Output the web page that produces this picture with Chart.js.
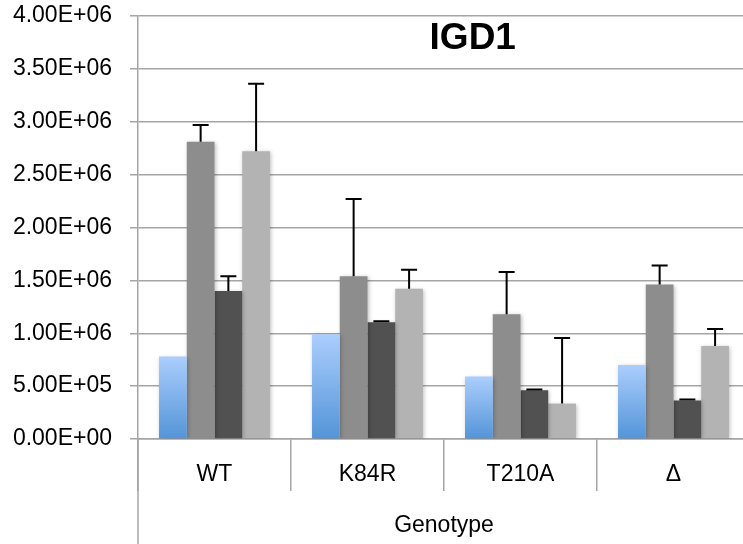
<!DOCTYPE html>
<html>
<head>
<meta charset="utf-8">
<script src="https://cdn.jsdelivr.net/npm/chart.js@4"></script>
<style>
  html, body { margin: 0; padding: 0; background: #fff; overflow: hidden; }
  #wrap { width: 752px; height: 544px; }
</style>
</head>
<body>
<div id="wrap"><canvas id="barChart" width="752" height="544"></canvas></div>
<script>
// data
var genotypes = ['WT', 'K84R', 'T210A', 'Δ'];
var series1 = [780000, 990000, 590000, 700000];
var series2 = [2810000, 1540000, 1180000, 1460000];
var series3 = [1400000, 1105000, 460000, 365000];
var series4 = [2720000, 1420000, 335000, 880000];
var err2 = [160000, 730000, 400000, 180000];
var err3 = [140000, 8000, 8000, 8000];
var err4 = [640000, 180000, 620000, 160000];
var yTicks = [0, 500000, 1000000, 1500000, 2000000, 2500000, 3000000, 3500000, 4000000];

var FONT = 'Liberation Sans, Arial, sans-serif';
var GRID = '#a5a5a5';

function sci(v) {
    if (v === 0) return '0.00E+00';
    var e = Math.floor(Math.log10(v));
    var m = v / Math.pow(10, e);
    return m.toFixed(2) + 'E+' + String(e).padStart(2, '0');
}

function blueGradient(c) {
    var chart = c.chart;
    if (!chart.chartArea || c.raw === undefined) return '#7fb0ea';
    var y = chart.scales.y;
    var top = y.getPixelForValue(c.raw);
    var bottom = y.getPixelForValue(0);
    var g = chart.ctx.createLinearGradient(0, top, 0, bottom);
    g.addColorStop(0, '#abcefd');
    g.addColorStop(1, '#5394d8');
    return g;
}

// error bars (up only), bar shadows, title text and the long left line
var extras = {
    id: 'extras',
    beforeDatasetsDraw: function (chart) {
        var ctx = chart.ctx;
        ctx.save();
        ctx.shadowColor = 'rgba(0,0,0,0.25)';
        ctx.shadowBlur = 4;
        ctx.shadowOffsetX = 1;
        ctx.shadowOffsetY = 1;
    },
    afterDatasetsDraw: function (chart) {
        var ctx = chart.ctx;
        ctx.restore();
        var y = chart.scales.y;
        chart.data.datasets.forEach(function (ds, i) {
            if (!ds.errors) return;
            var meta = chart.getDatasetMeta(i);
            meta.data.forEach(function (bar, j) {
                var top = y.getPixelForValue(ds.data[j] + ds.errors[j]);
                ctx.save();
                ctx.strokeStyle = '#000';
                ctx.lineWidth = 2;
                ctx.beginPath();
                ctx.moveTo(bar.x, bar.y);
                ctx.lineTo(bar.x, top);
                ctx.moveTo(bar.x - 8, top);
                ctx.lineTo(bar.x + 8, top);
                ctx.stroke();
                ctx.restore();
            });
        });
    },
    afterDraw: function (chart) {
        var ctx = chart.ctx;
        var a = chart.chartArea;
        ctx.save();
        ctx.strokeStyle = GRID;
        ctx.lineWidth = 1.5;
        ctx.beginPath();
        ctx.moveTo(a.left, a.bottom);
        ctx.lineTo(a.left, chart.height);
        ctx.stroke();
        ctx.fillStyle = '#000';
        ctx.font = 'bold 37px ' + FONT;
        ctx.textAlign = 'center';
        ctx.textBaseline = 'middle';
        ctx.fillText('IGD1', a.left + (a.right - a.left) * 0.547, 39);
        ctx.restore();
    }
};

var ctx = document.getElementById('barChart').getContext('2d');
var myBarChart = new Chart(ctx, {
    type: 'bar',
    data: {
        labels: genotypes,
        datasets: [
            { label: 'Series 1', data: series1, backgroundColor: blueGradient },
            { label: 'Series 2', data: series2, errors: err2, backgroundColor: '#8d8d8d' },
            { label: 'Series 3', data: series3, errors: err3, backgroundColor: '#515151' },
            { label: 'Series 4', data: series4, errors: err4, backgroundColor: '#b3b3b3' }
        ]
    },
    options: {
        responsive: false,
        devicePixelRatio: 1,
        animation: false,
        categoryPercentage: 0.725,
        barPercentage: 1,
        layout: {
            padding: { left: 0, right: 2, top: 16, bottom: 0 }
        },
        plugins: {
            legend: { display: false },
            tooltip: { enabled: false }
        },
        scales: {
            x: {
                grid: {
                    offset: true,
                    drawOnChartArea: false,
                    drawTicks: true,
                    tickLength: 52,
                    color: GRID,
                    lineWidth: 1.5
                },
                border: { color: GRID, width: 1.5 },
                ticks: {
                    color: '#000',
                    padding: -30,
                    font: { family: FONT, size: 23 }
                },
                title: {
                    display: true,
                    text: 'Genotype',
                    color: '#000',
                    padding: { top: 0, bottom: 5 },
                    font: { family: FONT, size: 23 }
                },
                afterFit: function (scale) { scale.height = 105; }
            },
            y: {
                min: 0,
                max: 4000000,
                afterBuildTicks: function (scale) {
                    scale.ticks = yTicks.map(function (v) { return { value: v }; });
                },
                grid: {
                    color: GRID,
                    lineWidth: 1.5,
                    tickLength: 8
                },
                border: { color: GRID, width: 1.5 },
                ticks: {
                    color: '#000',
                    padding: 18,
                    font: { family: FONT, size: 23 },
                    callback: function (v) { return sci(v); }
                },
                afterFit: function (scale) {
                    scale.width = 138;
                    scale.paddingTop = 12;
                    scale.paddingBottom = 12;
                }
            }
        }
    },
    plugins: [extras]
});
</script>
</body>
</html>
